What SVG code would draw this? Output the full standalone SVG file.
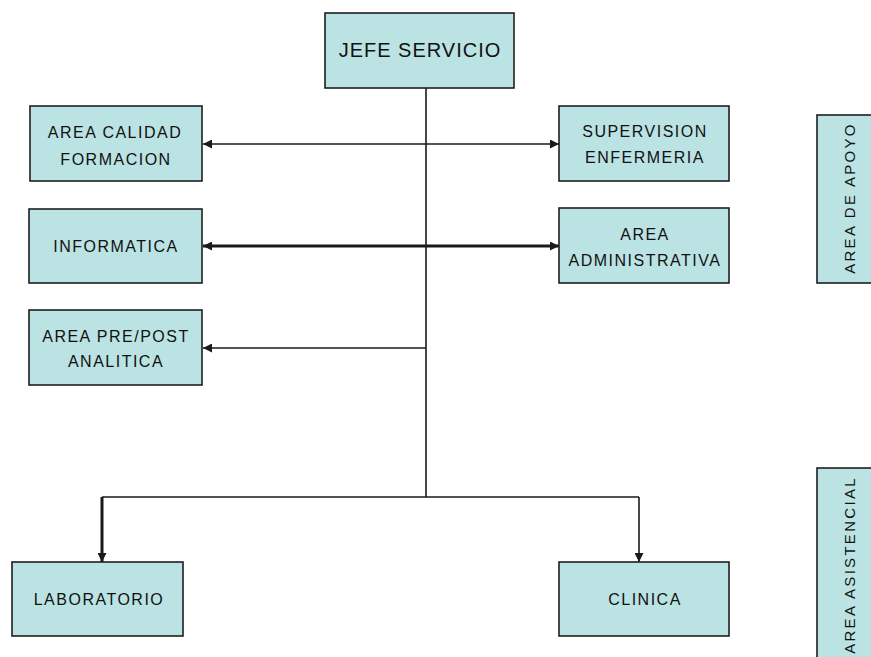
<svg xmlns="http://www.w3.org/2000/svg" width="871" height="657" viewBox="0 0 871 657">
<defs>
<style>
.box{fill:#bbe3e3;stroke:#1e1e1e;stroke-width:1.6}
.t{font-family:"Liberation Sans",Arial,sans-serif;font-size:16px;letter-spacing:1.5px;fill:#111111;text-anchor:middle}
.big{font-size:20px;letter-spacing:1px}
.v{font-size:15px;letter-spacing:2.3px}
.c{fill:none;stroke:#1a1a1a;stroke-width:1.6}
.thick{stroke-width:3}
</style>
<marker id="ah" viewBox="0 0 10 10" refX="10" refY="5" markerWidth="9" markerHeight="9" markerUnits="userSpaceOnUse" orient="auto-start-reverse">
<path d="M0,0 L10,5 L0,10 z" fill="#1a1a1a"/>
</marker>
</defs>
<rect width="871" height="657" fill="#ffffff"/>
<g id="connectors">
<path class="c" d="M426,88 V497"/>
<path class="c" d="M102,497 H639"/>
<path class="c thick" d="M102,497 V562" marker-end="url(#ah)"/>
<path class="c" d="M639,497 V562" stroke-width="2" marker-end="url(#ah)"/>
<path class="c" d="M203,144 H559" marker-start="url(#ah)" marker-end="url(#ah)"/>
<path class="c thick" d="M203,246 H559" marker-start="url(#ah)" marker-end="url(#ah)"/>
<path class="c" d="M426,348 H203" marker-end="url(#ah)"/>
</g>
<g id="jefe">
<rect class="box" x="325" y="13" width="189" height="75"/>
<text class="t big" x="420" y="57">JEFE SERVICIO</text>
</g>
<g id="calidad">
<rect class="box" x="30" y="106" width="172" height="75"/>
<text class="t" x="115" y="138">AREA CALIDAD</text>
<text class="t" x="116" y="165">FORMACION</text>
</g>
<g id="supervision">
<rect class="box" x="559" y="106" width="170" height="75"/>
<text class="t" x="645" y="137">SUPERVISION</text>
<text class="t" x="645" y="163">ENFERMERIA</text>
</g>
<g id="informatica">
<rect class="box" x="29" y="209" width="173" height="74"/>
<text class="t" x="116" y="252">INFORMATICA</text>
</g>
<g id="administrativa">
<rect class="box" x="559" y="208" width="170" height="75"/>
<text class="t" x="645" y="240">AREA</text>
<text class="t" x="645" y="266">ADMINISTRATIVA</text>
</g>
<g id="prepost">
<rect class="box" x="29" y="310" width="173" height="75"/>
<text class="t" x="116" y="342">AREA PRE/POST</text>
<text class="t" x="116" y="367">ANALITICA</text>
</g>
<g id="laboratorio">
<rect class="box" x="12" y="562" width="171" height="74"/>
<text class="t" x="99" y="605">LABORATORIO</text>
</g>
<g id="clinica">
<rect class="box" x="559" y="562" width="170" height="74"/>
<text class="t" x="645" y="605">CLINICA</text>
</g>
<g id="apoyo">
<rect class="box" x="817" y="115" width="70" height="168"/>
<text class="t v" transform="translate(855,198) rotate(-90)" x="0" y="0">AREA DE APOYO</text>
</g>
<g id="asistencial">
<rect class="box" x="817" y="468" width="70" height="210"/>
<text class="t v" transform="translate(855,565) rotate(-90)" x="0" y="0">AREA ASISTENCIAL</text>
</g>
</svg>
